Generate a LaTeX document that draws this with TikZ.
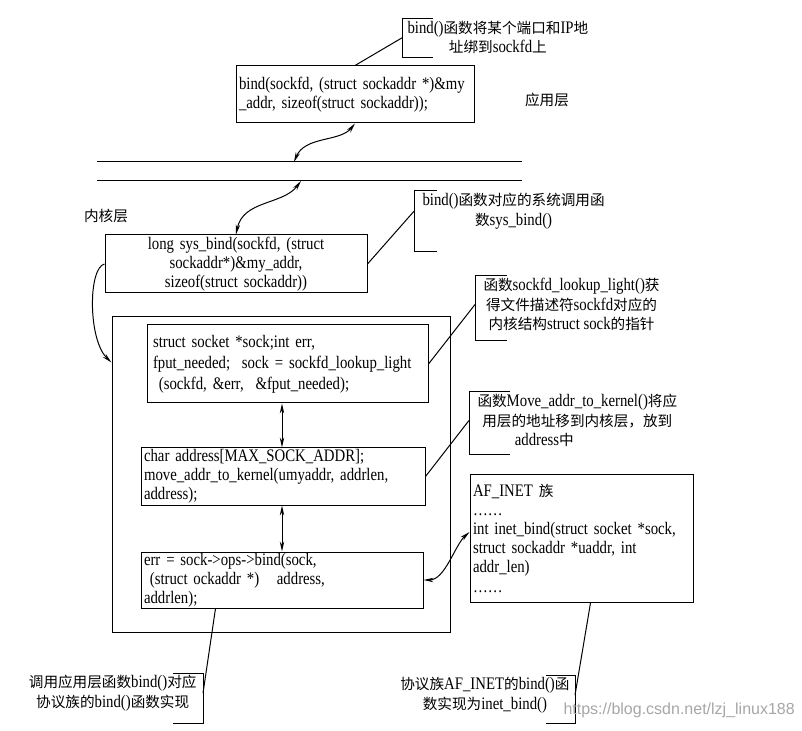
\documentclass[tikz,border=0pt]{standalone}
\usepackage{fontspec}
\setmainfont[FakeStretch=0.84]{Liberation Serif}
\newfontfamily\cjkfont[Scale=0.83]{Noto Sans CJK SC}
\newfontfamily\markfont{Liberation Sans}
\usetikzlibrary{arrows.meta}

\newcommand{\zh}[1]{{\cjkfont #1}}
% open brackets of the notes
\newcommand{\bracketL}[3]{\draw ([xshift=#2]#1.north west) -| ([yshift=-#3]#1.south west) -- ++(#2,0pt);}
\newcommand{\bracketR}[3]{\draw ([xshift=-#2]#1.north east) -| ([yshift=-#3]#1.south east) -- ++(-#2,0pt);}

\tikzset{
  codebox/.style={draw, align=left, inner xsep=1.5pt, inner ysep=0pt},
  note/.style={align=center, inner ysep=1pt},
  twoway/.style={{Stealth[length=5pt,width=2.2pt]}-{Stealth[length=5pt,width=2.2pt]}},
  oneway/.style={-{Stealth[length=5pt,width=2.2pt]}},
}

\begin{document}
\begin{tikzpicture}[x=0.5pt, y=-0.5pt, line width=0.5pt,
    font=\fontsize{8.8}{9.6}\selectfont]
  \useasboundingbox (0,0) rectangle (802,731);

  % layers
  \coordinate (upw) at (97,162);
  \coordinate (upe) at (522,162);
  \coordinate (loww) at (97,181);
  \coordinate (lowe) at (522,181);
  \coordinate (upmark) at (294,162);
  \coordinate (lowmark) at (301,181);
  \draw (upw) -- (upe);
  \draw (loww) -- (lowe);
  \node (applabel) at (547,100) {\zh{应用层}};
  \node (kernlabel) at (106,216) {\zh{内核层}};

  % code boxes
  \node[codebox, text width=116pt, minimum height=28.5pt] (appbox) at (355,94.5)
    {bind(sockfd, (struct sockaddr *)\&my\\\_addr, sizeof(struct sockaddr));};
  \node[codebox, align=center, text width=128pt, minimum height=29pt] (sysbox) at (236,264)
    {long sys\_bind(sockfd, (struct\\sockaddr*)\&my\_addr,\\sizeof(struct sockaddr))};
  \node[draw, minimum width=169pt, minimum height=157.5pt] (bigbox) at (281,474.5) {};
  \node[codebox, inner xsep=3pt, text width=134.5pt, minimum height=39pt] (box1) at (287.5,364)
    {struct socket *sock;int err,\\[1pt]fput\_needed;\ \ sock = sockfd\_lookup\_light\\[1pt]\ (sockfd, \&err,\ \ \&fput\_needed);};
  \node[codebox, text width=139pt, minimum height=28.5pt] (box2) at (283,476.5)
    {char address[MAX\_SOCK\_ADDR];\\move\_addr\_to\_kernel(umyaddr, addrlen,\\address);};
  \node[codebox, text width=138pt, minimum height=28pt] (box3) at (282,580)
    {err = sock->ops->bind(sock,\\\ (struct ockaddr *)\quad address,\\addrlen);};
  \node[codebox, text width=108.5pt, minimum height=64pt] (afbox) at (581.5,538)
    {AF\_INET \zh{族}\\……\\int inet\_bind(struct socket *sock,\\struct sockaddr *uaddr, int\\addr\_len)\\……};

  % notes
  \node[note, inner xsep=2.5pt, anchor=north west] (note1) at (402,19)
    {bind()\zh{函数将某个端口和}IP\zh{地}\\\zh{址绑到}sockfd\zh{上}};
  \node[note, inner xsep=4pt, anchor=north west] (note2) at (414,191)
    {bind()\zh{函数对应的系统调用函}\\\zh{数}sys\_bind()};
  \node[note, inner xsep=4pt, anchor=north west] (note3) at (475,276)
    {\zh{函数}sockfd\_lookup\_light()\zh{获}\\\zh{得文件描述符}sockfd\zh{对应的}\\\zh{内核结构}struct sock\zh{的指针}};
  \node[note, inner xsep=4pt, anchor=north west] (note4) at (469,392)
    {\zh{函数}Move\_addr\_to\_kernel()\zh{将应}\\\zh{用层的地址移到内核层，放到}\\address\zh{中}\hspace*{33pt}};
  \node[note, inner xsep=3pt, anchor=north east] (note5) at (203,673)
    {\zh{调用应用层函数}bind()\zh{对应}\\\zh{协议族的}bind()\zh{函数实现}};
  \node[note, inner xsep=2.5pt, anchor=north east] (note6) at (575,675)
    {\zh{协议族}AF\_INET\zh{的}bind()\zh{函}\\\zh{数实现为}inet\_bind()};
  \bracketL{note1}{15.5pt}{0.5pt}
  \bracketL{note2}{11.5pt}{10pt}
  \bracketL{note3}{16pt}{4pt}
  \bracketL{note4}{20.5pt}{3pt}
  \bracketR{note5}{15pt}{5pt}
  \bracketR{note6}{14.5pt}{4pt}

  % leaders
  \draw (appbox.north) -- (note1.west);
  \draw (sysbox.east) -- (note2.west);
  \draw (box1.east) -- (note3.west);
  \draw (box2.east) -- (note4.west);
  \draw ([xshift=37.5pt]box3.south west) -- (note5.east);
  \draw (afbox.-82) -- (note6.east);

  % calls
  \draw[twoway] (appbox.south) .. controls (340,142) and (305,136) .. (upmark);
  \draw[twoway] (lowmark) .. controls (283,205) and (243,200) .. (sysbox.north);
  \draw[oneway] (sysbox.west) .. controls (88,268) and (88,340) .. ([yshift=-23pt]bigbox.north west);
  \draw[twoway] (box1.south -| box3.north) -- (box2.north -| box3.north);
  \draw[twoway] (box2.south -| box3.north) -- (box3.north);
  \draw[twoway] ([yshift=3pt]afbox.west) .. controls (455,545) and (445,580) .. (box3.east);

  \node[font=\markfont\fontsize{8}{8}\selectfont, text=black!35, anchor=west, inner sep=0pt]
    (mark) at (563,710) {https://blog.csdn.net/lzj\_linux188};
\end{tikzpicture}
\end{document}
